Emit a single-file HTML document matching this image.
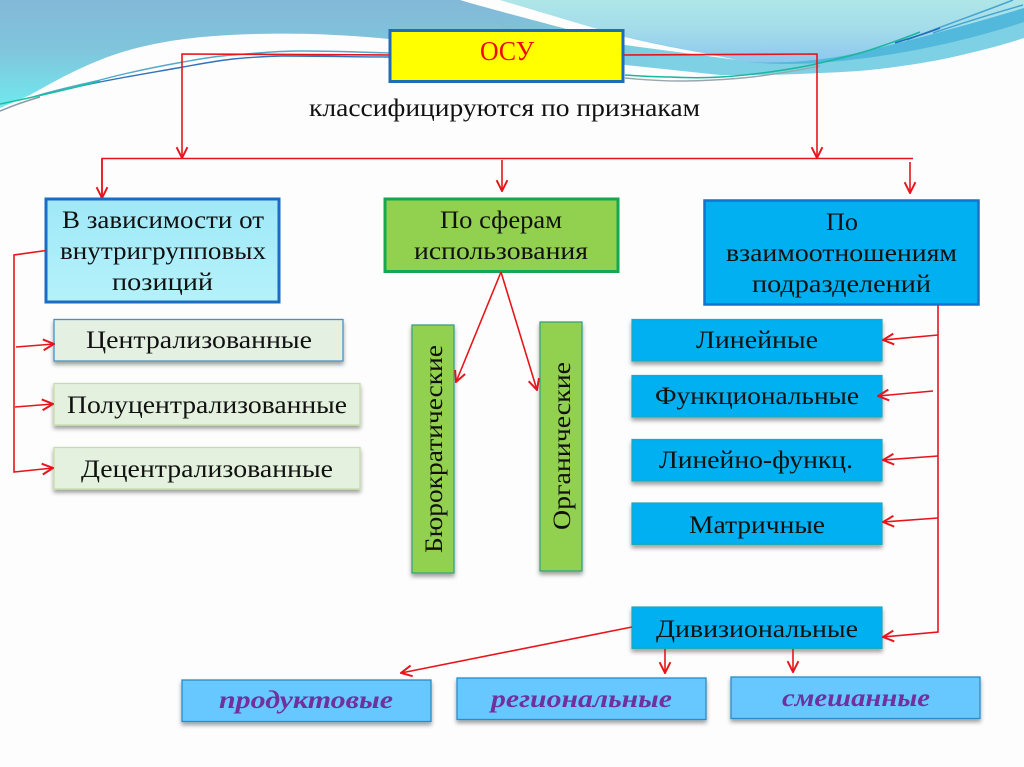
<!DOCTYPE html>
<html lang="ru"><head><meta charset="utf-8"><title>ОСУ</title>
<style>html,body{margin:0;padding:0;background:#fdfdfd}svg{display:block}
text{font-family:"Liberation Serif","Noto Serif CJK SC",serif;fill:#111}</style></head>
<body>
<svg xmlns="http://www.w3.org/2000/svg" width="1024" height="767" viewBox="0 0 1024 767">
<defs>
<linearGradient id="gl" gradientUnits="userSpaceOnUse" x1="0" y1="0" x2="0" y2="105"><stop offset="0" stop-color="#82b8d8"/><stop offset=".5" stop-color="#80c6dc"/><stop offset="1" stop-color="#70e8ee"/></linearGradient>
<linearGradient id="gb" gradientUnits="userSpaceOnUse" x1="500" y1="0" x2="660" y2="0"><stop offset="0" stop-color="#81bdd9"/><stop offset="1" stop-color="#7ed0e4"/></linearGradient>
<linearGradient id="gr" gradientUnits="userSpaceOnUse" x1="0" y1="0" x2="0" y2="64"><stop offset="0" stop-color="#aee6e8"/><stop offset=".45" stop-color="#a4dcea"/><stop offset="1" stop-color="#8cc6ee"/></linearGradient>
<linearGradient id="gc" x1="0" y1="0" x2="0" y2="1"><stop offset="0" stop-color="#a0e8f8"/><stop offset="1" stop-color="#b4f2fa"/></linearGradient>
<filter id="s" x="-10%" y="-20%" width="120%" height="150%"><feDropShadow dx="0" dy="3" stdDeviation="2" flood-color="#000" flood-opacity=".38"/></filter>
<filter id="sv" x="-30%" y="-10%" width="160%" height="120%"><feDropShadow dx="0" dy="3" stdDeviation="2" flood-color="#000" flood-opacity=".38"/></filter>
<marker id="a" viewBox="0 0 12 12" refX="11" refY="6" markerWidth="13" markerHeight="13" markerUnits="userSpaceOnUse" orient="auto"><path d="M1 1L11 6L1 11" fill="none" stroke="#e8141c" stroke-width="1.800"/></marker>
</defs>
<rect width="1024" height="767" fill="#fdfdfd"/>
<!-- background waves -->
<path d="M0 0H520V60H400V40C340 34 290 32 230 35C170 38 130 48 100 60C70 72 50 84 30 95L0 108Z" fill="url(#gl)"/>
<!-- right lower band -->
<path d="M500 0H1024V38C1000 46 975 52 953 57C930 62 910 65 887 68C865 71 845 72 820 73C800 74 775 75 753 75H720L625 65L500 50Z" fill="url(#gb)"/>
<!-- upper right sky -->
<path d="M490 0H1024V8C970 24 930 38 880 52C850 60 820 64 790 64C770 64 750 62 737 60L625 37Z" fill="url(#gr)"/>
<!-- darker band -->
<path d="M1024 8V22C970 40 900 56 830 62C800 65 770 64 747 62C790 64 830 60 870 50C920 38 970 24 1024 8Z" fill="#52b8dc"/>
<!-- white wedge -->
<path d="M460 0H500C540 12 590 27 625 37C650 43 680 49 703 53L737 60L625 45C580 32 500 12 460 0Z" fill="#fdfdfd"/>
<!-- thin lines left -->
<path d="M33 97C55 90 75 86 100 80C130 72 155 67 183 62C200 59 215 56 233 55C255 53 280 51 300 51C330 51 360 52 390 53" fill="none" stroke="#55a8c8" stroke-width="1.400"/>
<path d="M33 97C55 92 75 87 100 82C130 76 155 72 183 67C200 64 215 61 233 59C255 57 270 56 283 56C320 56 360 57 390 57" fill="none" stroke="#2f74bc" stroke-width="1.400"/>
<path d="M0 104C30 98 65 90 100 81" fill="none" stroke="#18c4a0" stroke-width="1.500"/>
<path d="M0 111C12 106 22 102 40 97" fill="none" stroke="#8a9aa8" stroke-width="1.500"/>
<!-- thin lines right -->
<path d="M625 75C640 76 655 77 670 77C690 78 705 78 720 77C740 76 755 74 770 72C790 69 805 67 820 63C840 58 855 55 870 50C885 45 905 38 920 32" fill="none" stroke="#18b89c" stroke-width="1.500"/>
<path d="M625 78C645 80 660 81 680 81C700 81 715 80 730 79C760 77 790 72 820 66" fill="none" stroke="#9aa6ae" stroke-width="1.400"/>
<path d="M907 40C945 25 980 13 1013 0M933 33C965 22 995 13 1023 5" fill="none" stroke="#45a4d0" stroke-width="1.500"/>
<path d="M895 43C910 38 925 34 940 28" fill="none" stroke="#1f6cc0" stroke-width="1.500"/>

<!-- top -->
<rect x="390" y="30.500" width="233" height="51" fill="#ffff00" stroke="#1f6db4" stroke-width="3"/>
<text x="480" y="60" font-size="27" style="fill:#f00808" textLength="54" lengthAdjust="spacingAndGlyphs">ОСУ</text>
<text x="309" y="116" font-size="25.500" textLength="391" lengthAdjust="spacingAndGlyphs">классифицируются по признакам</text>

<!-- connectors top -->
<g fill="none" stroke="#e8141c" stroke-width="1.600">
<path d="M390 55L182 54V158" marker-end="url(#a)"/>
<path d="M623 55L817 54V158" marker-end="url(#a)"/>
<path d="M102 198V158.500H913"/>
<path d="M102 159V198" marker-end="url(#a)"/>
<path d="M502 160V191" marker-end="url(#a)"/>
<path d="M910 162V193" marker-end="url(#a)"/>
</g>

<!-- left column -->
<rect x="46" y="199" width="233" height="103" fill="url(#gc)" stroke="#1a6cc4" stroke-width="3"/>
<g font-size="25.500">
<text x="62" y="228" textLength="202" lengthAdjust="spacingAndGlyphs">В зависимости от</text>
<text x="60" y="259" textLength="206" lengthAdjust="spacingAndGlyphs">внутригрупповых</text>
<text x="112" y="290" textLength="101" lengthAdjust="spacingAndGlyphs">позиций</text>
</g>
<rect x="54" y="319.500" width="289" height="41.500" fill="#e4f1e2" stroke="#4a90c8" stroke-width="1.300" filter="url(#s)"/>
<rect x="54" y="383.500" width="306" height="41.500" fill="#e4f1de" stroke="#c4dca8" stroke-width="1.300" filter="url(#s)"/>
<rect x="54" y="447.500" width="306" height="41.500" fill="#e4f1de" stroke="#c4dca8" stroke-width="1.300" filter="url(#s)"/>
<g font-size="25.500">
<text x="86" y="348" textLength="226" lengthAdjust="spacingAndGlyphs">Централизованные</text>
<text x="67" y="413" textLength="280" lengthAdjust="spacingAndGlyphs">Полуцентрализованные</text>
<text x="81" y="477" textLength="252" lengthAdjust="spacingAndGlyphs">Децентрализованные</text>
</g>
<g fill="none" stroke="#e8141c" stroke-width="1.600">
<path d="M46 250.500L14 255V472L53 468" marker-end="url(#a)"/>
<path d="M16 347L54 344" marker-end="url(#a)"/>
<path d="M15 407L53 404" marker-end="url(#a)"/>
</g>

<!-- middle column -->
<rect x="385" y="199" width="233" height="72.500" fill="#92d050" stroke="#14a850" stroke-width="3"/>
<g font-size="25.500">
<text x="440" y="228" textLength="122" lengthAdjust="spacingAndGlyphs">По сферам</text>
<text x="414" y="259" textLength="174" lengthAdjust="spacingAndGlyphs">использования</text>
</g>
<rect x="412" y="325" width="42" height="248" fill="#92d050" stroke="#3aa080" stroke-width="1.300" filter="url(#sv)"/>
<rect x="540" y="322" width="42" height="249" fill="#92d050" stroke="#3aa080" stroke-width="1.300" filter="url(#sv)"/>
<text transform="translate(442 553) rotate(-90)" font-size="25.500" textLength="208" lengthAdjust="spacingAndGlyphs">Бюрократические</text>
<text transform="translate(570 530) rotate(-90)" font-size="25.500" textLength="168" lengthAdjust="spacingAndGlyphs">Органические</text>
<g fill="none" stroke="#e8141c" stroke-width="1.600">
<path d="M501 272L456 382" marker-end="url(#a)"/>
<path d="M501 272L537 390" marker-end="url(#a)"/>
</g>

<!-- right column -->
<rect x="704.500" y="200.500" width="274" height="104" fill="#00b0f0" stroke="#1274cc" stroke-width="2.500"/>
<g font-size="25.500">
<text x="826" y="230" textLength="32" lengthAdjust="spacingAndGlyphs">По</text>
<text x="726" y="261" textLength="231" lengthAdjust="spacingAndGlyphs">взаимоотношениям</text>
<text x="752" y="292" textLength="179" lengthAdjust="spacingAndGlyphs">подразделений</text>
</g>
<g fill="#00b0f0" stroke="#20a8b8" stroke-width="1.200" filter="url(#s)">
<rect x="632" y="319.500" width="250" height="41.500"/>
<rect x="632" y="375.500" width="250" height="41.500"/>
<rect x="632" y="439.500" width="250" height="41.500"/>
<rect x="632" y="503" width="250" height="41.500"/>
<rect x="632" y="607" width="250" height="41.500"/>
</g>
<g font-size="25.500">
<text x="696" y="348" textLength="122" lengthAdjust="spacingAndGlyphs">Линейные</text>
<text x="655" y="404" textLength="204" lengthAdjust="spacingAndGlyphs">Функциональные</text>
<text x="659" y="468" textLength="194" lengthAdjust="spacingAndGlyphs">Линейно-функц.</text>
<text x="689" y="533" textLength="136" lengthAdjust="spacingAndGlyphs">Матричные</text>
<text x="656" y="637" textLength="202" lengthAdjust="spacingAndGlyphs">Дивизиональные</text>
</g>
<g fill="none" stroke="#e8141c" stroke-width="1.600">
<path d="M938 305V632L883 637" marker-end="url(#a)"/>
<path d="M938 335L883 340" marker-end="url(#a)"/>
<path d="M933 391L878 396" marker-end="url(#a)"/>
<path d="M938 456L883 460" marker-end="url(#a)"/>
<path d="M938 518L883 522" marker-end="url(#a)"/>
<path d="M632 627L401 673" marker-end="url(#a)"/>
<path d="M665 649V673" marker-end="url(#a)"/>
<path d="M793 649V672" marker-end="url(#a)"/>
</g>

<!-- bottom row -->
<g fill="#66c8ff" stroke="#2a8cc8" stroke-width="1.300" filter="url(#s)">
<rect x="182" y="680" width="249" height="41.500"/>
<rect x="457" y="678" width="249" height="41.500"/>
<rect x="731" y="677" width="249" height="41.500"/>
</g>
<g font-size="25.500" font-weight="bold" font-style="italic">
<text x="219" y="708" style="fill:#7030a0" textLength="174" lengthAdjust="spacingAndGlyphs">продуктовые</text>
<text x="491" y="707" style="fill:#7030a0" textLength="181" lengthAdjust="spacingAndGlyphs">региональные</text>
<text x="782" y="706" style="fill:#7030a0" textLength="148" lengthAdjust="spacingAndGlyphs">смешанные</text>
</g>
</svg>
</body></html>
